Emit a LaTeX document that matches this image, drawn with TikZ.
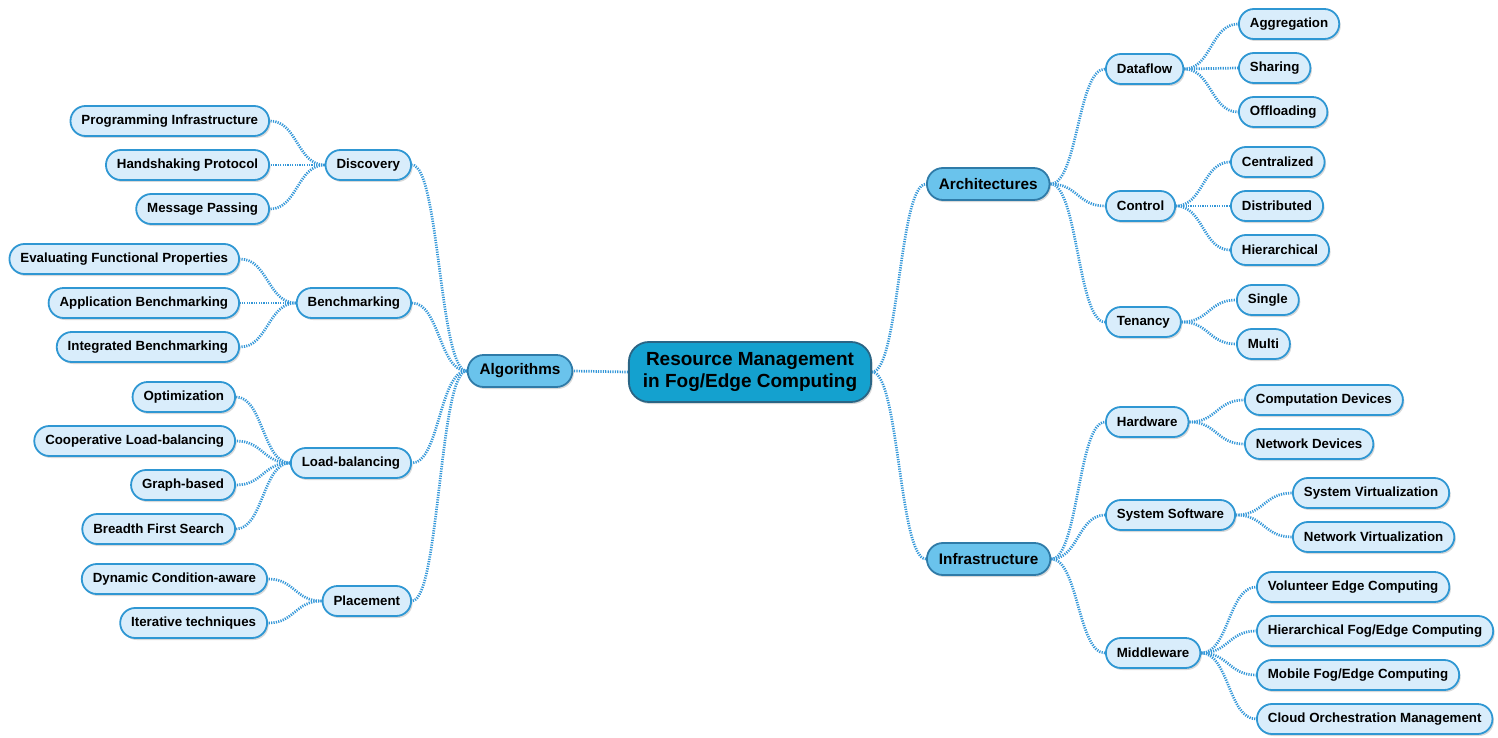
\documentclass[tikz,border=0pt]{standalone}
\usepackage{fontspec}
\setmainfont{Liberation Sans}
\usetikzlibrary{shadows,backgrounds,calc}
\definecolor{cline}{HTML}{3497D8}
\definecolor{leaffill}{HTML}{D9EDFB}
\definecolor{leafdraw}{HTML}{2F97D3}
\definecolor{midfill}{HTML}{6AC3EC}
\definecolor{middraw}{HTML}{2F7BA8}
\definecolor{rootfill}{HTML}{14A1CF}
\definecolor{rootdraw}{HTML}{2A6585}
\tikzset{
 base/.style={rounded corners=15pt, line width=1.8pt, minimum height=30pt, inner xsep=11pt, inner ysep=0pt,
   font=\fontsize{13.3}{15}\selectfont\bfseries,
   drop shadow={opacity=0.3, shadow xshift=1.5pt, shadow yshift=-2pt}},
 leaf/.style={base, fill=leaffill, draw=leafdraw},
 topic/.style={base, fill=midfill, draw=middraw, minimum height=32pt, rounded corners=16pt, inner xsep=12pt,
   font=\fontsize{15.3}{17}\selectfont\bfseries},
 root/.style={base, fill=rootfill, draw=rootdraw, rounded corners=20pt, minimum height=60pt, inner xsep=14pt,
   align=center, font=\fontsize{19}{22}\selectfont\bfseries},
 link/.style={draw=cline, line width=2.7pt, dash pattern=on 1.2pt off 1.2pt,
   to path={let \p1=(\tikztostart), \p2=(\tikztotarget) in
     .. controls ({(\x1+\x2)/2},\y1) and ({(\x1+\x2)/2},\y2) .. (\tikztotarget) \tikztonodes}},
}
\begin{document}
\begin{tikzpicture}[x=1pt,y=-1pt]
\useasboundingbox (0,0) rectangle (1498,738);
% root and main topics
\node[root] (root) at (750,372) {Resource Management\\in Fog/Edge Computing};
\node[topic] (alg) at (520,371) {Algorithms};
\node[topic, anchor=west] (arch) at (926,184) {Architectures};
\node[topic, anchor=west] (infra) at (926,559) {Infrastructure};
% left subtopics
\node[leaf, anchor=east] (disc) at (412,165) {Discovery};
\node[leaf, anchor=east] (bench) at (412,303) {Benchmarking};
\node[leaf, anchor=east] (load) at (412,463) {Load-balancing};
\node[leaf, anchor=east] (place) at (412,601) {Placement};
% left leaves
\node[leaf, anchor=east] (l1) at (270,121) {Programming Infrastructure};
\node[leaf, anchor=east] (l2) at (270,165) {Handshaking Protocol};
\node[leaf, anchor=east] (l3) at (270,209) {Message Passing};
\node[leaf, anchor=east] (l4) at (240,259) {Evaluating Functional Properties};
\node[leaf, anchor=east] (l5) at (240,303) {Application Benchmarking};
\node[leaf, anchor=east] (l6) at (240,347) {Integrated Benchmarking};
\node[leaf, anchor=east] (l7) at (236,397) {Optimization};
\node[leaf, anchor=east] (l8) at (236,441) {Cooperative Load-balancing};
\node[leaf, anchor=east] (l9) at (236,485) {Graph-based};
\node[leaf, anchor=east] (l10) at (236,529) {Breadth First Search};
\node[leaf, anchor=east] (l11) at (268,579) {Dynamic Condition-aware};
\node[leaf, anchor=east] (l12) at (268,623) {Iterative techniques};
% right subtopics
\node[leaf, anchor=west] (data) at (1105,69) {Dataflow};
\node[leaf, anchor=west] (ctrl) at (1105,206) {Control};
\node[leaf, anchor=west] (ten) at (1105,322) {Tenancy};
\node[leaf, anchor=west] (hw) at (1105,422) {Hardware};
\node[leaf, anchor=west] (sys) at (1105,515) {System Software};
\node[leaf, anchor=west] (mid) at (1105,653) {Middleware};
% right leaves
\node[leaf, anchor=west] (r1) at (1238,24) {Aggregation};
\node[leaf, anchor=west] (r2) at (1238,68) {Sharing};
\node[leaf, anchor=west] (r3) at (1238,112) {Offloading};
\node[leaf, anchor=west] (r4) at (1230,162) {Centralized};
\node[leaf, anchor=west] (r5) at (1230,206) {Distributed};
\node[leaf, anchor=west] (r6) at (1230,250) {Hierarchical};
\node[leaf, anchor=west] (r7) at (1236,300) {Single};
\node[leaf, anchor=west] (r8) at (1236,344) {Multi};
\node[leaf, anchor=west] (r9) at (1244,400) {Computation Devices};
\node[leaf, anchor=west] (r10) at (1244,444) {Network Devices};
\node[leaf, anchor=west] (r11) at (1292,493) {System Virtualization};
\node[leaf, anchor=west] (r12) at (1292,537) {Network Virtualization};
\node[leaf, anchor=west] (r13) at (1256,587) {Volunteer Edge Computing};
\node[leaf, anchor=west] (r14) at (1256,631) {Hierarchical Fog/Edge Computing};
\node[leaf, anchor=west] (r15) at (1256,675) {Mobile Fog/Edge Computing};
\node[leaf, anchor=west] (r16) at (1256,719) {Cloud Orchestration Management};
% connectors
\begin{scope}[on background layer]
\draw[link] (root.west) to (alg.east);
\draw[link] (root.east) to (arch.west);
\draw[link] (root.east) to (infra.west);
\foreach \c in {disc,bench,load,place} \draw[link] (alg.west) to (\c.east);
\foreach \c in {l1,l2,l3} \draw[link] (disc.west) to (\c.east);
\foreach \c in {l4,l5,l6} \draw[link] (bench.west) to (\c.east);
\foreach \c in {l7,l8,l9,l10} \draw[link] (load.west) to (\c.east);
\foreach \c in {l11,l12} \draw[link] (place.west) to (\c.east);
\foreach \c in {data,ctrl,ten} \draw[link] (arch.east) to (\c.west);
\foreach \c in {hw,sys,mid} \draw[link] (infra.east) to (\c.west);
\foreach \c in {r1,r2,r3} \draw[link] (data.east) to (\c.west);
\foreach \c in {r4,r5,r6} \draw[link] (ctrl.east) to (\c.west);
\foreach \c in {r7,r8} \draw[link] (ten.east) to (\c.west);
\foreach \c in {r9,r10} \draw[link] (hw.east) to (\c.west);
\foreach \c in {r11,r12} \draw[link] (sys.east) to (\c.west);
\foreach \c in {r13,r14,r15,r16} \draw[link] (mid.east) to (\c.west);
\end{scope}
\end{tikzpicture}
\end{document}
